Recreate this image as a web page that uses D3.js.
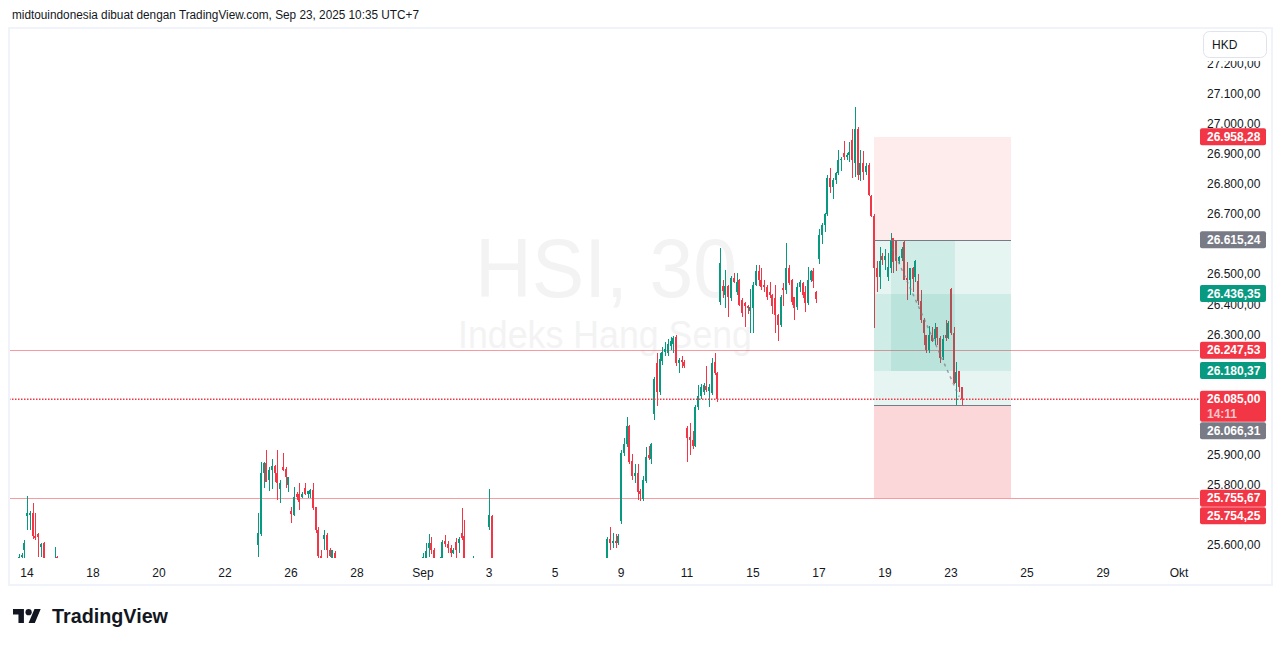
<!DOCTYPE html>
<html><head><meta charset="utf-8">
<script src="https://cdn.jsdelivr.net/npm/d3@7"></script>
<style>body{margin:0;background:#fff}svg{display:block}text{font-family:"Liberation Sans",Arial,sans-serif}</style>
</head><body><svg id="c" width="1281" height="646"></svg>
<script>
// ---- DATA: 30-minute candles [open, high, low, close], one array per session ----
const s0813=[[25400,25440,25380,25430],[25430,25470,25410,25455],[25455,25480,25430,25445],[25445,25490,25440,25480],[25480,25510,25460,25500],[25500,25530,25480,25490],[25490,25520,25470,25510],[25510,25545,25500,25530],[25530,25550,25510,25540],[25540,25570,25520,25560],[25560,25575,25540,25568],[25583,25615,25555,25607]];
const s0814=[[25697,25763,25650,25708],[25700,25712,25650,25705],[25707,25740,25620,25630],[25630,25705,25615,25622],[25635,25640,25560,25625],[25595,25605,25560,25602],[25605,25610,25530,25545],[25545,25550,25500,25520],[25520,25545,25490,25530],[25530,25550,25505,25540],[25540,25593,25520,25550],[25560,25565,25500,25519]];
const s0815=[[25519,25530,25420,25440],[25440,25470,25400,25410],[25410,25430,25360,25380],[25380,25400,25330,25350],[25350,25390,25320,25370],[25370,25380,25300,25320],[25320,25350,25280,25330],[25330,25345,25270,25290],[25290,25320,25250,25300],[25300,25330,25270,25280],[25280,25300,25240,25265],[25265,25280,25250,25270]];
const s0818=[[25300,25340,25250,25260],[25260,25290,25220,25280],[25280,25310,25240,25250],[25250,25270,25200,25230],[25230,25260,25190,25210],[25210,25240,25180,25225],[25225,25250,25190,25200],[25200,25230,25160,25185],[25185,25210,25150,25170],[25170,25200,25140,25190],[25190,25200,25160,25175],[25175,25185,25165,25176]];
const s0819=[[25180,25220,25130,25150],[25150,25200,25120,25190],[25190,25230,25160,25170],[25170,25190,25100,25120],[25120,25160,25090,25140],[25140,25170,25110,25130],[25130,25150,25080,25100],[25100,25140,25070,25130],[25130,25160,25100,25110],[25110,25140,25080,25125],[25125,25140,25100,25118],[25118,25130,25110,25122]];
const s0820=[[25100,25140,25020,25040],[25040,25080,24990,25060],[25060,25110,25040,25100],[25100,25130,25070,25080],[25080,25120,25050,25110],[25110,25150,25090,25140],[25140,25170,25110,25120],[25120,25160,25100,25150],[25150,25190,25130,25180],[25180,25200,25150,25160],[25160,25180,25140,25170],[25170,25175,25155,25165]];
const s0821=[[25180,25220,25140,25200],[25200,25230,25150,25160],[25160,25180,25090,25110],[25110,25150,25080,25130],[25130,25160,25100,25120],[25120,25140,25060,25080],[25080,25120,25050,25100],[25100,25130,25070,25090],[25090,25120,25060,25110],[25110,25140,25080,25095],[25095,25115,25080,25105],[25105,25110,25095,25104]];
const s0822=[[25120,25160,25090,25140],[25140,25190,25120,25180],[25180,25220,25150,25200],[25200,25240,25170,25230],[25230,25260,25200,25220],[25220,25270,25210,25260],[25260,25290,25230,25250],[25250,25300,25240,25290],[25290,25320,25260,25310],[25310,25350,25290,25330],[25330,25350,25310,25340],[25340,25345,25330,25339]];
const s0825=[[25600,25705,25560,25640],[25635,25875,25630,25840],[25840,25875,25790,25873],[25873,25915,25808,25810],[25815,25858,25780,25850],[25850,25885,25785,25862],[25862,25865,25810,25840],[25840,25915,25750,25805],[25785,25815,25740,25805],[25860,25905,25845,25848],[25852,25858,25790,25825],[25798,25826,25775,25825]];
const s0826=[[25713,25726,25673,25703],[25700,25793,25695,25760],[25768,25775,25750,25760],[25768,25805,25718,25742],[25760,25775,25755,25770],[25790,25805,25765,25768],[25770,25780,25755,25778],[25768,25785,25758,25783],[25783,25805,25716,25722],[25726,25728,25640,25650],[25650,25660,25540,25565],[25565,25585,25500,25520]];
const s0827=[[25620,25650,25585,25633],[25633,25640,25550,25585],[25585,25590,25560,25565],[25555,25585,25530,25583],[25575,25580,25480,25500],[25500,25520,25420,25440],[25440,25470,25380,25400],[25400,25430,25340,25360],[25360,25390,25300,25320],[25320,25350,25270,25290],[25290,25310,25220,25240],[25240,25260,25190,25201]];
const s0828=[[25180,25210,25100,25120],[25120,25150,25060,25080],[25080,25110,25020,25050],[25050,25090,25010,25070],[25070,25100,25030,25040],[25040,25060,24960,24980],[24980,25020,24940,25000],[25000,25040,24970,25020],[25020,25050,24980,24990],[24990,25010,24950,24980],[24980,25000,24960,24995],[24995,25000,24990,24998]];
const s0829=[[25050,25120,25020,25100],[25100,25160,25070,25140],[25140,25170,25090,25110],[25110,25130,25060,25080],[25080,25110,25040,25060],[25060,25100,25030,25090],[25090,25120,25050,25070],[25070,25100,25030,25050],[25050,25090,25020,25080],[25080,25110,25050,25070],[25070,25090,25060,25075],[25075,25080,25070,25077]];
const s0901=[[25540,25575,25500,25560],[25540,25607,25520,25580],[25590,25637,25560,25605],[25605,25625,25570,25585],[25585,25590,25520,25540],[25540,25555,25500,25530],[25530,25560,25510,25545],[25545,25615,25540,25610],[25613,25633,25593,25603],[25603,25613,25575,25590],[25590,25600,25560,25575],[25575,25590,25570,25583]];
const s0902=[[25610,25623,25550,25583],[25605,25625,25575,25620],[25640,25723,25615,25622],[25630,25683,25500,25530],[25530,25545,25470,25500],[25500,25540,25480,25530],[25530,25565,25510,25540],[25540,25558,25500,25520],[25520,25558,25490,25510],[25510,25557,25480,25500],[25500,25530,25470,25490],[25490,25510,25480,25496]];
const s0903=[[25660,25786,25650,25700],[25695,25700,25420,25450],[25450,25480,25400,25420],[25420,25450,25370,25390],[25390,25420,25350,25400],[25400,25430,25360,25370],[25370,25400,25330,25350],[25350,25380,25310,25360],[25360,25390,25320,25340],[25340,25370,25300,25330],[25330,25360,25310,25345],[25345,25350,25335,25343]];
const s0904=[[25340,25360,25250,25270],[25270,25300,25200,25220],[25220,25250,25160,25180],[25180,25210,25120,25150],[25150,25180,25090,25110],[25110,25140,25060,25090],[25090,25120,25040,25070],[25070,25100,25030,25050],[25050,25080,25000,25060],[25060,25090,25030,25040],[25040,25070,25030,25055],[25055,25060,25050,25058]];
const s0905=[[25150,25200,25120,25180],[25180,25240,25160,25230],[25230,25280,25200,25260],[25260,25300,25230,25290],[25290,25330,25260,25310],[25310,25350,25280,25340],[25340,25370,25310,25350],[25350,25390,25330,25380],[25380,25420,25360,25400],[25400,25430,25370,25410],[25410,25425,25400,25415],[25415,25420,25410,25418]];
const s0908=[[25430,25480,25400,25460],[25460,25500,25430,25440],[25440,25470,25400,25450],[25450,25490,25420,25480],[25480,25510,25450,25470],[25470,25500,25440,25490],[25490,25525,25470,25515],[25530,25625,25520,25620],[25620,25660,25583,25605],[25605,25640,25590,25612],[25612,25637,25590,25605],[25605,25635,25600,25630]];
const s0909=[[25680,25915,25670,25905],[25905,25956,25895,25935],[25935,26026,25925,25995],[25995,26000,25868,25875],[25880,25903,25816,25828],[25828,25870,25806,25840],[25840,25869,25750,25775],[25778,25785,25745,25768],[25752,25830,25745,25815],[25812,25926,25805,25893],[25898,25930,25883,25890],[25886,25940,25870,25935]];
const s0910=[[26036,26158,26016,26152],[26205,26239,26062,26110],[26110,26239,26100,26218],[26212,26260,26200,26242],[26242,26275,26230,26252],[26240,26285,26228,26268],[26262,26292,26250,26280],[26270,26296,26240,26290],[26292,26300,26195,26205],[26205,26222,26172,26214],[26214,26228,26190,26210],[26210,26216,26190,26196]];
const s0911=[[25990,25995,25876,25955],[25958,26005,25900,25950],[25948,25980,25920,25930],[25930,26065,25925,26058],[26058,26132,26050,26095],[26095,26135,26085,26125],[26110,26140,26100,26132],[26130,26195,26110,26115],[26112,26135,26058,26125],[26106,26222,26100,26205],[26208,26239,26165,26172],[26172,26176,26075,26085]];
const s0912=[[26408,26588,26400,26538],[26460,26480,26420,26445],[26430,26515,26390,26462],[26462,26465,26360,26425],[26420,26495,26410,26488],[26488,26505,26470,26475],[26440,26505,26432,26475],[26480,26485,26395,26400],[26415,26420,26360,26372],[26405,26408,26325,26395],[26395,26400,26370,26388],[26380,26450,26305,26392]];
const s0915=[[26388,26475,26305,26465],[26465,26530,26460,26510],[26510,26530,26460,26482],[26482,26520,26448,26458],[26465,26480,26440,26458],[26458,26465,26415,26425],[26440,26475,26420,26430],[26430,26435,26368,26395],[26420,26465,26305,26365],[26365,26370,26280,26332],[26332,26430,26325,26425],[26455,26470,26395,26448]];
const s0916=[[26448,26604,26435,26520],[26520,26530,26465,26472],[26481,26485,26400,26408],[26425,26425,26348,26388],[26392,26470,26382,26458],[26458,26480,26440,26475],[26472,26475,26422,26432],[26440,26460,26375,26405],[26405,26525,26400,26480],[26480,26515,26475,26510],[26512,26520,26455,26478],[26440,26445,26405,26418]];
const s0917=[[26550,26650,26535,26630],[26630,26672,26600,26665],[26665,26705,26640,26700],[26700,26830,26695,26822],[26822,26855,26770,26790],[26790,26822,26750,26815],[26815,26840,26800,26838],[26838,26915,26830,26880],[26880,26890,26845,26885],[26905,26945,26880,26890],[26890,26905,26880,26898],[26898,26940,26875,26908]];
const s0918=[[26947,26985,26820,26880],[26870,27057,26825,26985],[26985,26990,26815,26830],[26830,26915,26810,26870],[26870,26910,26815,26840],[26840,26870,26830,26860],[26865,26870,26760,26765],[26760,26765,26690,26695],[26695,26700,26322,26520],[26520,26545,26440,26490],[26490,26590,26450,26545],[26560,26570,26530,26548]];
const s0919=[[26548,26585,26515,26560],[26490,26570,26478,26525],[26520,26638,26505,26612],[26620,26622,26505,26540],[26610,26615,26510,26545],[26545,26560,26535,26558],[26555,26590,26545,26585],[26608,26610,26480,26483],[26487,26540,26415,26480],[26480,26522,26432,26520],[26520,26525,26440,26485],[26490,26548,26475,26545]];
const s0922=[[26478,26500,26400,26410],[26410,26448,26340,26350],[26350,26355,26265,26305],[26300,26300,26240,26250],[26250,26330,26240,26300],[26300,26325,26275,26278],[26285,26340,26265,26320],[26325,26325,26265,26290],[26290,26295,26205,26222],[26225,26300,26215,26285],[26300,26350,26280,26290],[26290,26345,26285,26340]];
const s0923=[[26450,26455,26300,26305],[26305,26325,26135,26140],[26140,26210,26066,26175],[26180,26180,26110,26125],[26125,26125,26066,26085]];

const sessions=[s0813,s0814,s0815,s0818,s0819,s0820,s0821,s0822,s0825,s0826,s0827,s0828,s0829,s0901,s0902,s0903,s0904,s0905,s0908,s0909,s0910,s0911,s0912,s0915,s0916,s0917,s0918,s0919,s0922,s0923];
const barsPerSession=12;

// time-axis labels: trading-session number (Aug 13 = 0); future ones fractional
const timeLabels=["14","18","20","22","26","28","Sep","3","5","9","11","15","17","19","23","25","29","Okt"];
const timeSessions=[1,3,5,7,9,11,13,15,17,19,21,23,25,27,29,31.3,33.61,35.91];

// price-level labels on the right scale
const levelValues=[26958.28,26615.24,26436.35,26247.53,26180.37,26085.00,26066.31,25755.67,25754.25];
const levelKinds=["red","gray","green","red","green","red","gray","red","red"];
const countdown="14:11";

// position tools (bar index, price)
const toolStartBar=320, toolEndBar=369.8, toolInnerStart=326, toolInnerEnd=349.5;
const entry=26615.24, stopLvl=26958.28, target=26066.31, band=[26436.35,26180.37], stop2=25755.67;
const fullLines=[26247.53,25755.67];
const lastPrice=26085.00;

// ---- DRAW ----
const W=1281,H=646, plotL=10, plotR=1199, plotT=29, plotB=558;
const svg=d3.select("#c");
const fmt=d3.formatLocale({decimal:",",thousands:".",grouping:[3],currency:["",""]}).format(",.2f");
const colors={red:"#f23645",green:"#089981",gray:"#787b86"};
const up="#089981", dn="#f23645";

const candles=[];
sessions.forEach((s,si)=>s.forEach((c,k)=>candles.push({i:si*barsPerSession+k,o:c[0],h:c[1],l:c[2],c:c[3]})));

const x=d3.scaleLinear().domain([12,348]).range([27,951]);
const y=d3.scaleLinear().domain([25600,27200]).range([545,64]);

// background + frame
svg.append("rect").attr("width",W).attr("height",H).attr("fill","#fff");
svg.append("rect").attr("x",9).attr("y",28).attr("width",1263).attr("height",557)
  .attr("fill","#fff").attr("stroke","#f0f3fa").attr("stroke-width",2);

svg.append("text").attr("x",12).attr("y",19).attr("font-size",12).attr("fill","#131722")
  .attr("textLength",407).attr("lengthAdjust","spacingAndGlyphs")
  .text("midtouindonesia dibuat dengan TradingView.com, Sep 23, 2025 10:35 UTC+7");

const defs=svg.append("defs");
defs.append("clipPath").attr("id","plot").append("rect")
  .attr("x",plotL).attr("y",plotT).attr("width",plotR-plotL).attr("height",plotB-plotT);
const pat=defs.append("pattern").attr("id","dots").attr("patternUnits","userSpaceOnUse").attr("width",3).attr("height",2);
pat.append("rect").attr("width",1.5).attr("height",2).attr("fill","#f23645");

const g=svg.append("g").attr("clip-path","url(#plot)");

// watermark
g.append("text").attr("x",606).attr("y",297).attr("text-anchor","middle").attr("font-size",84)
  .attr("fill","#f3f3f4").attr("textLength",262).attr("lengthAdjust","spacingAndGlyphs").text("HSI, 30");
g.append("text").attr("x",605).attr("y",348).attr("text-anchor","middle").attr("font-size",38)
  .attr("fill","#f3f3f4").attr("textLength",294).attr("lengthAdjust","spacingAndGlyphs").text("Indeks Hang Seng");

// horizontal lines
fullLines.forEach(v=>{
  g.append("line").attr("x1",plotL).attr("x2",plotR).attr("y1",Math.round(y(v))+0.5).attr("y2",Math.round(y(v))+0.5)
   .attr("stroke","rgba(242,54,69,0.5)").attr("stroke-width",1).attr("shape-rendering","crispEdges");
});

// candles
const cg=g.append("g").attr("shape-rendering","crispEdges");
candles.forEach(d=>{
  const xc=Math.round(x(d.i));
  const col=d.c>=d.o?up:dn;
  cg.append("rect").attr("x",xc).attr("width",1).attr("y",y(d.h)).attr("height",Math.max(1,y(d.l)-y(d.h))).attr("fill",col);
  const top=y(Math.max(d.o,d.c)), bot=y(Math.min(d.o,d.c));
  cg.append("rect").attr("x",xc-1).attr("width",2).attr("y",top).attr("height",Math.max(1,bot-top)).attr("fill",col);
});

// position tools drawn over the candles
const tg=g.append("g").attr("shape-rendering","crispEdges");
const X0=x(toolStartBar), X1=x(toolEndBar);
function zone(xa,xb,v1,v2,fill){tg.append("rect").attr("x",xa).attr("width",xb-xa).attr("y",y(Math.max(v1,v2))).attr("height",Math.abs(y(v1)-y(v2))).attr("fill",fill);}
zone(X0,X1,stopLvl,entry,"rgba(242,54,69,0.1)");
zone(X0,X1,entry,target,"rgba(8,153,129,0.1)");
zone(X0,X1,band[0],band[1],"rgba(8,153,129,0.1)");
zone(x(toolInnerStart),x(toolInnerEnd),entry,band[1],"rgba(8,153,129,0.1)");
zone(X0,X1,target,stop2,"rgba(242,54,69,0.2)");
[entry,target].forEach(v=>tg.append("line").attr("x1",X0).attr("x2",X1).attr("y1",Math.round(y(v))+0.5).attr("y2",Math.round(y(v))+0.5).attr("stroke","#787b86").attr("stroke-width",1));
g.append("line").attr("x1",x(toolInnerStart)+2).attr("y1",y(entry-30)).attr("x2",x(351)).attr("y2",y(lastPrice+8))
  .attr("stroke","rgba(120,123,134,0.7)").attr("stroke-width",1.5).attr("stroke-dasharray","3 4");

// last price dotted line
g.append("rect").attr("x",plotL).attr("width",plotR-plotL).attr("y",Math.round(y(lastPrice))-0.5).attr("height",1.5)
  .attr("fill","url(#dots)");

// time axis
timeLabels.forEach((t,k)=>{
  svg.append("text").attr("x",x(timeSessions[k]*barsPerSession)).attr("y",577).attr("text-anchor","middle")
    .attr("font-size",12).attr("fill","#131722").text(t);
});

// price labels layout with overlap resolution
const items=levelValues.map((v,k)=>({v,kind:levelKinds[k],sub:v===lastPrice?countdown:null})).sort((a,b)=>y(a.v)-y(b.v));
let prevBottom=-1e9;
items.forEach(it=>{
  it.h=it.sub?31:17;
  let top=y(it.v)-8.5;
  if(top<prevBottom+0.5) top=prevBottom+0.5;
  it.top=top; prevBottom=top+it.h;
});

// price axis ticks (ticks whose centre is hidden under a label box are not drawn)
y.ticks(16).forEach(v=>{
  const yy=y(v);
  const hidden=items.some(it=>yy>it.top-3 && yy<it.top+it.h-3);
  if(hidden) return;
  svg.append("text").attr("x",1207).attr("y",yy+4).attr("font-size",12).attr("fill","#131722").text(fmt(v));
});

items.forEach(it=>{
  svg.append("rect").attr("x",1200).attr("y",it.top).attr("width",66).attr("height",it.h).attr("rx",2).attr("fill",colors[it.kind]);
  svg.append("text").attr("x",1207).attr("y",it.top+12.5).attr("font-size",12).attr("font-weight","bold").attr("fill","#fff").text(fmt(it.v));
  if(it.sub) svg.append("text").attr("x",1207).attr("y",it.top+27).attr("font-size",12).attr("font-weight","bold").attr("fill","rgba(255,255,255,0.72)").text(it.sub);
});

// currency box
svg.append("rect").attr("x",1200).attr("y",29).attr("width",70).attr("height",32).attr("fill","#fff");
svg.append("rect").attr("x",1203.5).attr("y",31.5).attr("width",63).attr("height",26).attr("rx",6).attr("fill","#fff").attr("stroke","#e0e3eb");
svg.append("text").attr("x",1212).attr("y",48.5).attr("font-size",12).attr("fill","#131722").text("HKD");

// TradingView logo
const logo=svg.append("g").attr("transform","translate(13,605.9) scale(0.78)").attr("fill","#131722");
logo.append("path").attr("d","M14 22H7V11H0V4h14v18zM28 22h-8l7.5-18h8L28 22z");
logo.append("circle").attr("cx",20).attr("cy",8).attr("r",4);
svg.append("text").attr("x",52).attr("y",623).attr("font-size",20).attr("font-weight","bold").attr("fill","#131722")
  .attr("textLength",116).attr("lengthAdjust","spacingAndGlyphs").text("TradingView");
</script></body></html>
